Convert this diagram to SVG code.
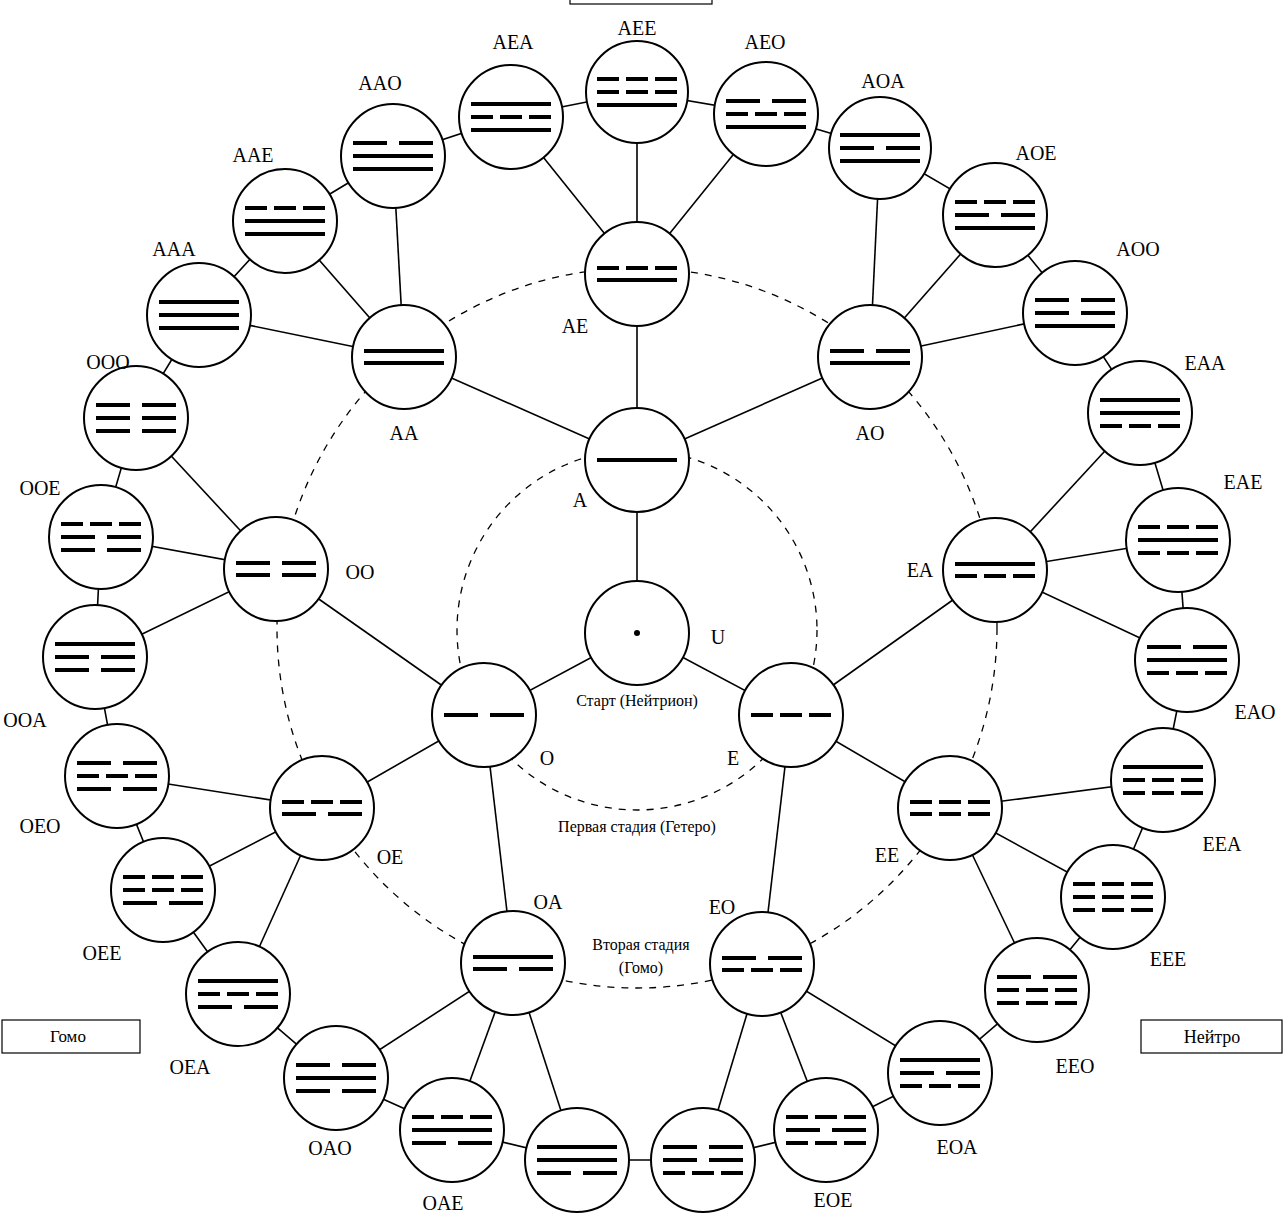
<svg xmlns="http://www.w3.org/2000/svg" xmlns:xlink="http://www.w3.org/1999/xlink" width="1285" height="1214" viewBox="0 0 1285 1214">
<style>
.n circle{fill:#fff;stroke:#000;stroke-width:2}
.n rect,.bar rect{fill:#000}
text{font-family:"Liberation Serif","DejaVu Serif",serif;font-size:20px;fill:#000;text-anchor:middle}
.s{font-size:16px}
.c line,.c polygon{stroke:#000;stroke-width:1.6;fill:none}
.d{stroke:#000;stroke-width:1.3;fill:none;stroke-dasharray:7 7}
.box{fill:#fff;stroke:#000;stroke-width:1.2}
</style>
<defs>
<g id="a"><rect x="-40" y="-2" width="80" height="4"/></g>
<g id="o"><rect x="-40" y="-2" width="34" height="4"/><rect x="6" y="-2" width="34" height="4"/></g>
<g id="e"><rect x="-40" y="-2" width="22" height="4"/><rect x="-11" y="-2" width="22" height="4"/><rect x="18" y="-2" width="22" height="4"/></g>
</defs>
<rect width="1285" height="1214" fill="#fff"/>
<rect class="box" x="570" y="-10" width="142" height="14"/>
<g id="frame-gomo"><rect class="box" x="2" y="1020" width="138" height="33"/><text x="68" y="1042" class="s" style="font-size:17px">Гомо</text></g>
<g id="frame-neitro"><rect class="box" x="1141" y="1020" width="141" height="33"/><text x="1212" y="1043" style="font-size:18px">Нейтро</text></g>
<circle class="d" cx="637" cy="630" r="180"/>
<circle class="d" cx="637" cy="628" r="360"/>
<g class="c" id="connectors">
<polygon points="637,92 766,114 880,148 995,215 1075,313 1140,413 1178,540 1187,660 1163,780 1113,897 1037,990 940,1073 826,1130 703,1160 577,1160 452,1130 336,1078 238,994 163,890 117,776 95,657 101,537 136,418 199,315 285,221 393,156 511,117"/>
<line x1="637" y1="633" x2="637" y2="460"/><line x1="637" y1="633" x2="484" y2="715"/><line x1="637" y1="633" x2="791" y2="715"/>
<line x1="637" y1="460" x2="404" y2="357"/><line x1="637" y1="460" x2="637" y2="274"/><line x1="637" y1="460" x2="870" y2="357"/>
<line x1="484" y1="715" x2="276" y2="569"/><line x1="484" y1="715" x2="322" y2="808"/><line x1="484" y1="715" x2="513" y2="963"/>
<line x1="791" y1="715" x2="995" y2="570"/><line x1="791" y1="715" x2="950" y2="808"/><line x1="791" y1="715" x2="762" y2="964"/>
<line x1="404" y1="357" x2="199" y2="315"/><line x1="404" y1="357" x2="285" y2="221"/><line x1="404" y1="357" x2="393" y2="156"/>
<line x1="637" y1="274" x2="511" y2="117"/><line x1="637" y1="274" x2="637" y2="92"/><line x1="637" y1="274" x2="766" y2="114"/>
<line x1="870" y1="357" x2="880" y2="148"/><line x1="870" y1="357" x2="995" y2="215"/><line x1="870" y1="357" x2="1075" y2="313"/>
<line x1="995" y1="570" x2="1140" y2="413"/><line x1="995" y1="570" x2="1178" y2="540"/><line x1="995" y1="570" x2="1187" y2="660"/>
<line x1="950" y1="808" x2="1163" y2="780"/><line x1="950" y1="808" x2="1113" y2="897"/><line x1="950" y1="808" x2="1037" y2="990"/>
<line x1="762" y1="964" x2="940" y2="1073"/><line x1="762" y1="964" x2="826" y2="1130"/><line x1="762" y1="964" x2="703" y2="1160"/>
<line x1="513" y1="963" x2="577" y2="1160"/><line x1="513" y1="963" x2="452" y2="1130"/><line x1="513" y1="963" x2="336" y2="1078"/>
<line x1="322" y1="808" x2="238" y2="994"/><line x1="322" y1="808" x2="163" y2="890"/><line x1="322" y1="808" x2="117" y2="776"/>
<line x1="276" y1="569" x2="95" y2="657"/><line x1="276" y1="569" x2="101" y2="537"/><line x1="276" y1="569" x2="136" y2="418"/>
</g>
<g class="n" id="n-U"><circle cx="637" cy="633" r="52"/><circle cx="637" cy="633" r="3" style="fill:#000;stroke:none"/><text x="718" y="644">U</text><text x="637" y="706" class="s">Старт (Нейтрион)</text></g>
<g class="n" id="n-A"><circle cx="637" cy="460" r="52"/><use href="#a" x="637" y="460"/><text x="580" y="507">A</text></g>
<g class="n" id="n-O"><circle cx="484" cy="715" r="52"/><use href="#o" x="484" y="715"/><text x="547" y="765">O</text></g>
<g class="n" id="n-E"><circle cx="791" cy="715" r="52"/><use href="#e" x="791" y="715"/><text x="733" y="765">E</text></g>
<text x="637" y="832" class="s">Первая стадия (Гетеро)</text>
<text x="641" y="950" class="s">Вторая стадия</text>
<text x="641" y="973" class="s">(Гомо)</text>
<g class="n" id="n-AA"><circle cx="404" cy="357" r="52"/><use href="#a" x="404" y="363"/><use href="#a" x="404" y="351"/><text x="404" y="440">AA</text></g>
<g class="n" id="n-AE"><circle cx="637" cy="274" r="52"/><use href="#a" x="637" y="280"/><use href="#e" x="637" y="268"/><text x="575" y="333">AE</text></g>
<g class="n" id="n-AO"><circle cx="870" cy="357" r="52"/><use href="#a" x="870" y="363"/><use href="#o" x="870" y="351"/><text x="870" y="440">AO</text></g>
<g class="n" id="n-EA"><circle cx="995" cy="570" r="52"/><use href="#e" x="995" y="576"/><use href="#a" x="995" y="564"/><text x="920" y="577">EA</text></g>
<g class="n" id="n-EE"><circle cx="950" cy="808" r="52"/><use href="#e" x="950" y="814"/><use href="#e" x="950" y="802"/><text x="887" y="862">EE</text></g>
<g class="n" id="n-EO"><circle cx="762" cy="964" r="52"/><use href="#e" x="762" y="970"/><use href="#o" x="762" y="958"/><text x="722" y="914">EO</text></g>
<g class="n" id="n-OA"><circle cx="513" cy="963" r="52"/><use href="#o" x="513" y="969"/><use href="#a" x="513" y="957"/><text x="548" y="909">OA</text></g>
<g class="n" id="n-OE"><circle cx="322" cy="808" r="52"/><use href="#o" x="322" y="814"/><use href="#e" x="322" y="802"/><text x="390" y="864">OE</text></g>
<g class="n" id="n-OO"><circle cx="276" cy="569" r="52"/><use href="#o" x="276" y="575"/><use href="#o" x="276" y="563"/><text x="360" y="579">OO</text></g>
<g class="n" id="n-AEA"><circle cx="511" cy="117" r="52"/><use href="#a" x="511" y="130"/><use href="#e" x="511" y="117"/><use href="#a" x="511" y="104"/><text x="513" y="49">AEA</text></g>
<g class="n" id="n-AEE"><circle cx="637" cy="92" r="51"/><use href="#a" x="637" y="105"/><use href="#e" x="637" y="92"/><use href="#e" x="637" y="79"/><text x="637" y="35">AEE</text></g>
<g class="n" id="n-AEO"><circle cx="766" cy="114" r="52"/><use href="#a" x="766" y="127"/><use href="#e" x="766" y="114"/><use href="#o" x="766" y="101"/><text x="765" y="49">AEO</text></g>
<g class="n" id="n-AAO"><circle cx="393" cy="156" r="52"/><use href="#a" x="393" y="169"/><use href="#a" x="393" y="156"/><use href="#o" x="393" y="143"/><text x="380" y="90">AAO</text></g>
<g class="n" id="n-AAE"><circle cx="285" cy="221" r="52"/><use href="#a" x="285" y="234"/><use href="#a" x="285" y="221"/><use href="#e" x="285" y="208"/><text x="253" y="162">AAE</text></g>
<g class="n" id="n-AAA"><circle cx="199" cy="315" r="52"/><use href="#a" x="199" y="328"/><use href="#a" x="199" y="315"/><use href="#a" x="199" y="302"/><text x="174" y="256">AAA</text></g>
<g class="n" id="n-OOO"><circle cx="136" cy="418" r="52"/><use href="#o" x="136" y="431"/><use href="#o" x="136" y="418"/><use href="#o" x="136" y="405"/><text x="108" y="369">OOO</text></g>
<g class="n" id="n-OOE"><circle cx="101" cy="537" r="52"/><use href="#o" x="101" y="550"/><use href="#o" x="101" y="537"/><use href="#e" x="101" y="524"/><text x="40" y="495">OOE</text></g>
<g class="n" id="n-OOA"><circle cx="95" cy="657" r="52"/><use href="#o" x="95" y="670"/><use href="#o" x="95" y="657"/><use href="#a" x="95" y="644"/><text x="25" y="727">OOA</text></g>
<g class="n" id="n-OEO"><circle cx="117" cy="776" r="52"/><use href="#o" x="117" y="789"/><use href="#e" x="117" y="776"/><use href="#o" x="117" y="763"/><text x="40" y="833">OEO</text></g>
<g class="n" id="n-OEE"><circle cx="163" cy="890" r="52"/><use href="#o" x="163" y="903"/><use href="#e" x="163" y="890"/><use href="#e" x="163" y="877"/><text x="102" y="960">OEE</text></g>
<g class="n" id="n-OEA"><circle cx="238" cy="994" r="52"/><use href="#o" x="238" y="1007"/><use href="#e" x="238" y="994"/><use href="#a" x="238" y="981"/><text x="190" y="1074">OEA</text></g>
<g class="n" id="n-OAO"><circle cx="336" cy="1078" r="52"/><use href="#o" x="336" y="1091"/><use href="#a" x="336" y="1078"/><use href="#o" x="336" y="1065"/><text x="330" y="1155">OAO</text></g>
<g class="n" id="n-OAE"><circle cx="452" cy="1130" r="52"/><use href="#o" x="452" y="1143"/><use href="#a" x="452" y="1130"/><use href="#e" x="452" y="1117"/><text x="443" y="1210">OAE</text></g>
<g class="n" id="n-OAA"><circle cx="577" cy="1160" r="52"/><use href="#o" x="577" y="1173"/><use href="#a" x="577" y="1160"/><use href="#a" x="577" y="1147"/></g>
<g class="n" id="n-EOO"><circle cx="703" cy="1160" r="52"/><use href="#e" x="703" y="1173"/><use href="#o" x="703" y="1160"/><use href="#o" x="703" y="1147"/></g>
<g class="n" id="n-EOE"><circle cx="826" cy="1130" r="52"/><use href="#e" x="826" y="1143"/><use href="#o" x="826" y="1130"/><use href="#e" x="826" y="1117"/><text x="833" y="1207">EOE</text></g>
<g class="n" id="n-EOA"><circle cx="940" cy="1073" r="52"/><use href="#e" x="940" y="1086"/><use href="#o" x="940" y="1073"/><use href="#a" x="940" y="1060"/><text x="957" y="1154">EOA</text></g>
<g class="n" id="n-EEO"><circle cx="1037" cy="990" r="52"/><use href="#e" x="1037" y="1003"/><use href="#e" x="1037" y="990"/><use href="#o" x="1037" y="977"/><text x="1075" y="1073">EEO</text></g>
<g class="n" id="n-EEE"><circle cx="1113" cy="897" r="52"/><use href="#e" x="1113" y="910"/><use href="#e" x="1113" y="897"/><use href="#e" x="1113" y="884"/><text x="1168" y="966">EEE</text></g>
<g class="n" id="n-EEA"><circle cx="1163" cy="780" r="52"/><use href="#e" x="1163" y="793"/><use href="#e" x="1163" y="780"/><use href="#a" x="1163" y="767"/><text x="1222" y="851">EEA</text></g>
<g class="n" id="n-EAO"><circle cx="1187" cy="660" r="52"/><use href="#e" x="1187" y="673"/><use href="#a" x="1187" y="660"/><use href="#o" x="1187" y="647"/><text x="1255" y="719">EAO</text></g>
<g class="n" id="n-EAE"><circle cx="1178" cy="540" r="52"/><use href="#e" x="1178" y="553"/><use href="#a" x="1178" y="540"/><use href="#e" x="1178" y="527"/><text x="1243" y="489">EAE</text></g>
<g class="n" id="n-EAA"><circle cx="1140" cy="413" r="52"/><use href="#e" x="1140" y="426"/><use href="#a" x="1140" y="413"/><use href="#a" x="1140" y="400"/><text x="1205" y="370">EAA</text></g>
<g class="n" id="n-AOO"><circle cx="1075" cy="313" r="52"/><use href="#a" x="1075" y="326"/><use href="#o" x="1075" y="313"/><use href="#o" x="1075" y="300"/><text x="1138" y="256">AOO</text></g>
<g class="n" id="n-AOE"><circle cx="995" cy="215" r="52"/><use href="#a" x="995" y="228"/><use href="#o" x="995" y="215"/><use href="#e" x="995" y="202"/><text x="1036" y="160">AOE</text></g>
<g class="n" id="n-AOA"><circle cx="880" cy="148" r="51"/><use href="#a" x="880" y="161"/><use href="#o" x="880" y="148"/><use href="#a" x="880" y="135"/><text x="883" y="88">AOA</text></g>
</svg>
